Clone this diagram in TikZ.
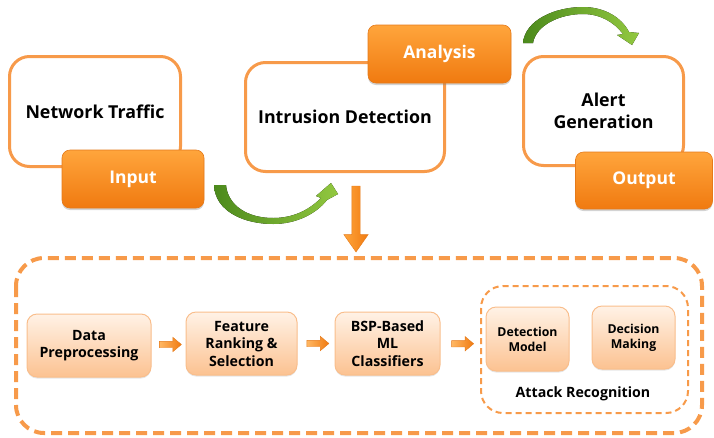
\documentclass[tikz,border=0pt]{standalone}
\usepackage{fontspec}
\setmainfont{Open Sans}
\usetikzlibrary{shapes.arrows,shadows,calc}
\definecolor{obord}{HTML}{F79A4A}
\definecolor{otop}{HTML}{FFA53C}
\definecolor{obot}{HTML}{F07A10}
\definecolor{odraw}{HTML}{E57A1A}
\definecolor{ltop}{HTML}{FFF2E6}
\definecolor{lbot}{HTML}{FCC291}
\definecolor{ldraw}{HTML}{F9BE8C}
\definecolor{gdark}{HTML}{4C8A1C}
\definecolor{glight}{HTML}{92C840}
\begin{document}
\begin{tikzpicture}[x=1pt,y=-1pt,
  wbox/.style={draw=obord, line width=3pt, rounded corners=20pt, fill=white, align=center,
    font=\fontsize{17.8}{22}\selectfont\bfseries},
  obox/.style={rounded corners=8pt, top color=otop, bottom color=obot, draw=odraw, line width=0.6pt,
    drop shadow={opacity=0.35, shadow xshift=0pt, shadow yshift=-2pt},
    text=white, font=\fontsize{17.5}{22}\selectfont\bfseries},
  lbox/.style={rounded corners=10pt, top color=ltop, bottom color=lbot, draw=ldraw, line width=1pt,
    drop shadow={opacity=0.2, shadow xshift=0pt, shadow yshift=-1.5pt},
    align=center, font=\fontsize{14.2}{17.5}\selectfont\bfseries},
  sbox/.style={lbox, font=\fontsize{12.3}{15}\selectfont\bfseries},
  smallarrow/.style={single arrow, inner sep=3pt, minimum height=22pt, single arrow head extend=4pt,
    single arrow tip angle=80, left color=otop!80, right color=obot, draw=odraw, line width=0.4pt},
  garrow/.style={left color=gdark, right color=glight, draw=none}
]
\useasboundingbox (0,0) rectangle (714,437);

% top row
\node[wbox, minimum width=171pt, minimum height=110pt] (nt) at (95,111.5) {Network Traffic};
\node[obox, minimum width=142pt, minimum height=58pt] (in) at (133,179) {Input};

\node[wbox, minimum width=199pt, minimum height=109pt] (id) at (345,117) {Intrusion Detection};
\node[obox, minimum width=143pt, minimum height=58pt] (an) at (439.5,54) {Analysis};

\node[wbox, minimum width=160pt, minimum height=109pt] (ag) at (603.5,111) {Alert\\Generation};
\node[obox, minimum width=137pt, minimum height=57pt] (out) at (644,180.5) {Output};

% green curved arrows
\fill[garrow] (214,185) .. controls (215,212) and (245,224) .. (273,224)
  .. controls (296,224) and (316,214) .. (327,200) -- (338,194) -- (331,183) -- (316,196) -- (321,198)
  .. controls (308,211) and (292,218) .. (273,218)
  .. controls (248,218) and (228,206) .. (226,185) -- cycle;
\fill[garrow] (523,43) .. controls (525,20) and (555,7) .. (583,7)
  .. controls (605,7) and (622,18) .. (629,32) -- (639,33) -- (632,45) -- (617,35) -- (623,34)
  .. controls (614,22) and (600,14) .. (583,14)
  .. controls (560,14) and (536,25) .. (533,43) -- cycle;

% down arrow
\node[single arrow, shape border rotate=270, inner sep=4pt, minimum height=66pt,
  single arrow head extend=8pt, single arrow tip angle=70,
  left color=otop, right color=obot, draw=odraw, line width=0.4pt] (down) at (356,216) {};

% big dashed container
\draw[obord, line width=4pt, dash pattern=on 11pt off 6pt, rounded corners=28pt]
  (16,258) rectangle (702,433);

% pipeline
\node[lbox, minimum width=124pt, minimum height=63pt] (dp) at (89,345.5) {Data\\Preprocessing};
\node[lbox, minimum width=111pt, minimum height=63pt] (fr) at (241.5,343.5) {Feature\\Ranking \&\\Selection};
\node[lbox, minimum width=105pt, minimum height=63pt] (bsp) at (387.5,343.5) {BSP-Based\\ML\\Classifiers};

\draw[obord, line width=2pt, dash pattern=on 6pt off 4pt, rounded corners=22pt]
  (481,286) rectangle (688,413);
\coordinate (arw) at (481,344);
\node[sbox, minimum width=83pt, minimum height=64pt] (dm) at (527.5,339) {Detection\\Model};
\node[sbox, minimum width=83pt, minimum height=63pt] (dec) at (633.5,337.5) {Decision\\Making};
\node[font=\fontsize{14.2}{17}\selectfont\bfseries] (arl) at (583,394) {Attack Recognition};

\node[smallarrow] (a1) at ($(dp.east)!0.5!(fr.west)$) {};
\node[smallarrow] (a2) at ($(fr.east)!0.5!(bsp.west)$) {};
\node[smallarrow] (a3) at ($(bsp.east)!0.5!(arw)$) {};
\end{tikzpicture}
\end{document}
